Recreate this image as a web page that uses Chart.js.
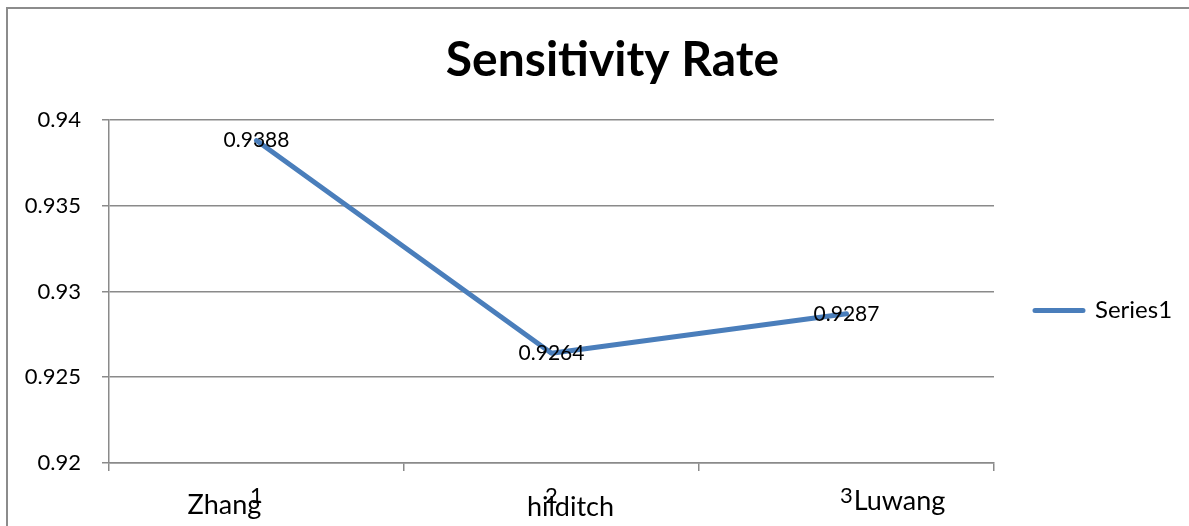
<!DOCTYPE html>
<html>
<head>
<meta charset="utf-8">
<script src="https://cdn.jsdelivr.net/npm/chart.js@4.4.0/dist/chart.umd.min.js"></script>
<style>
html,body{margin:0;padding:0;background:#ffffff;overflow:hidden}
#wrap{width:1189px;height:526px;position:relative}
</style>
</head>
<body>
<div id="wrap"><canvas id="c" width="1189" height="526"></canvas></div>
<script>
// ---- data ----
const chartTitle = 'Sensitivity Rate';
const seriesName = 'Series1';
const categories = ['1', '2', '3'];
const methodNames = ['Zhang', 'hilditch', 'Luwang'];
const sensitivity = [0.9388, 0.9264, 0.9287];
const yTickValues = [0.92, 0.925, 0.93, 0.935, 0.94];

// ---- style ----
const FONT = 'Lato';
const GRID = '#8a8a8a';
const LINE = '#4A7EBB';
const nameOffsets = [{dx: -32, dy: 51}, {dx: 19, dy: 53}, {dx: 53, dy: 47}];

const framePlugin = {
  id: 'frame',
  beforeDraw(chart) {
    const ctx = chart.ctx;
    ctx.save();
    ctx.fillStyle = '#ffffff';
    ctx.fillRect(0, 0, chart.width, chart.height);
    ctx.strokeStyle = '#8c8c8c';
    ctx.lineWidth = 2;
    ctx.strokeRect(7, 8, chart.width + 20, chart.height + 20);
    ctx.restore();
  }
};

const dataLabelPlugin = {
  id: 'dataLabels',
  afterDatasetsDraw(chart) {
    const ctx = chart.ctx;
    const meta = chart.getDatasetMeta(0);
    ctx.save();
    ctx.font = '21px ' + FONT;
    ctx.fillStyle = '#000000';
    ctx.textAlign = 'center';
    ctx.textBaseline = 'middle';
    meta.data.forEach((pt, i) => {
      ctx.fillText(String(chart.data.datasets[0].data[i]), pt.x, pt.y);
    });
    ctx.restore();
  }
};

const namePlugin = {
  id: 'names',
  afterDraw(chart) {
    const ctx = chart.ctx;
    const xs = chart.scales.x;
    ctx.save();
    ctx.font = '27px ' + FONT;
    ctx.fillStyle = '#000000';
    ctx.textAlign = 'center';
    ctx.textBaseline = 'alphabetic';
    methodNames.forEach((n, i) => {
      const o = nameOffsets[i];
      ctx.fillText(n, xs.getPixelForValue(i) + o.dx, chart.chartArea.bottom + o.dy);
    });
    ctx.restore();
  }
};

const legendFix = {
  id: 'legendFix',
  afterInit(chart) {
    const lg = chart.legend;
    if (!lg) return;
    const f = lg.fit.bind(lg);
    lg.fit = function () { f(); this.width = 231; };
  },
  afterLayout(chart) {
    const lg = chart.legend;
    if (!lg) return;
    lg.top += 47.5;
    lg.bottom += 47.5;
  }
};

new Chart(document.getElementById('c'), {
  type: 'line',
  data: {
    labels: categories,
    datasets: [{
      label: seriesName,
      data: sensitivity,
      borderColor: LINE,
      backgroundColor: LINE,
      borderWidth: 5,
      pointRadius: 0,
      pointHoverRadius: 0,
      tension: 0,
      fill: false,
      borderCapStyle: 'round',
      borderJoinStyle: 'round'
    }]
  },
  options: {
    responsive: false,
    animation: false,
    devicePixelRatio: 1,
    events: [],
    layout: {padding: {left: 0, right: -36, top: 0, bottom: 0}},
    plugins: {
      title: {
        display: true,
        text: chartTitle,
        color: '#000000',
        font: {family: FONT, size: 48, weight: 'bold', lineHeight: 1},
        padding: {top: 37, bottom: 35}
      },
      legend: {
        display: true,
        position: 'right',
        align: 'center',
        labels: {
          color: '#000000',
          font: {family: FONT, size: 24},
          boxWidth: 48,
          boxHeight: 0,
          padding: 41
        }
      },
      tooltip: {enabled: false}
    },
    scales: {
      x: {
        type: 'category',
        offset: true,
        grid: {drawOnChartArea: false, drawTicks: true, tickLength: 8, color: GRID, lineWidth: 1.5, offset: true},
        border: {display: true, color: GRID, width: 1.5},
        ticks: {color: '#000000', font: {family: FONT, size: 22}, padding: 12, maxRotation: 0, autoSkip: false},
        afterFit(s) { s.height = 63; }
      },
      y: {
        min: 0.92,
        max: 0.94,
        grid: {color: GRID, lineWidth: 1.5, tickLength: 7, drawTicks: true},
        border: {display: true, color: GRID, width: 1.5},
        ticks: {
          color: '#000000',
          font: {family: FONT, size: 22},
          padding: 21,
          callback: v => String(+Number(v).toFixed(4))
        },
        afterBuildTicks(s) { s.ticks = yTickValues.map(v => ({value: v})); },
        afterFit(s) { s.width = 109; }
      }
    }
  },
  plugins: [framePlugin, dataLabelPlugin, namePlugin, legendFix]
});
</script>
</body>
</html>
